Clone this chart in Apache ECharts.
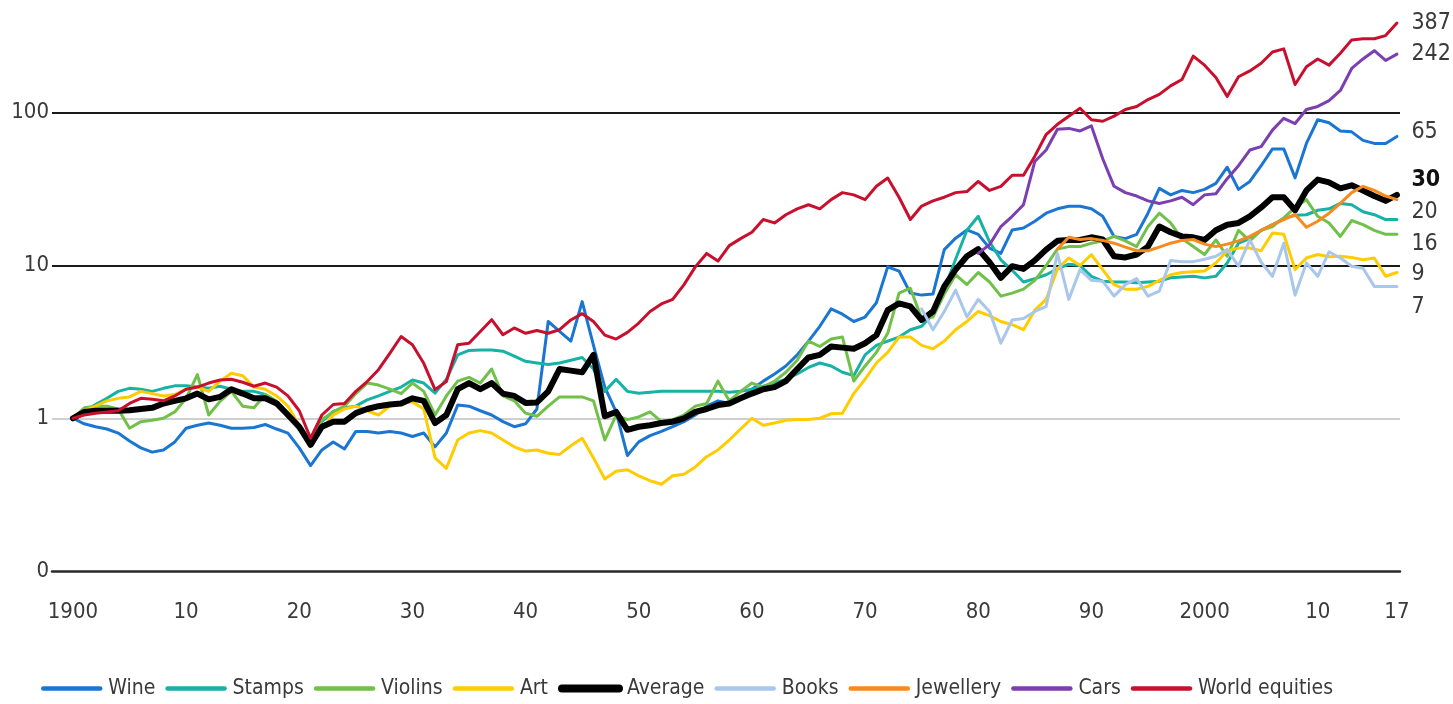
<!DOCTYPE html>
<html>
<head>
<meta charset="utf-8">
<script src="https://cdn.jsdelivr.net/npm/echarts@6/dist/echarts.min.js"></script>
<style>
html, body { margin: 0; padding: 0; background: #fff; }
#chart { width: 1453px; height: 704px; }
</style>
</head>
<body>
<div id="chart"></div>
<script>
// index, 1900 = 1, one value per year
const firstYear = 1900;
const wine = [
  1.0, 0.92, 0.88, 0.85, 0.8, 0.71, 0.64, 0.6, 0.62, 0.7,
  0.86, 0.9, 0.93, 0.9, 0.86, 0.86, 0.87, 0.91, 0.85, 0.8,
  0.64, 0.49, 0.62, 0.7, 0.63, 0.82, 0.82, 0.8, 0.82, 0.8,
  0.76, 0.8, 0.65, 0.8, 1.22, 1.2, 1.12, 1.05, 0.95, 0.88,
  0.92, 1.15, 4.3, 3.7, 3.2, 5.8, 3.0, 1.6, 1.1, 0.57,
  0.7, 0.77, 0.82, 0.88, 0.95, 1.05, 1.2, 1.3, 1.25, 1.35,
  1.55, 1.75, 1.95, 2.2, 2.6, 3.2, 4.0, 5.2, 4.8, 4.3,
  4.6, 5.7, 9.8, 9.2, 6.6, 6.4, 6.5, 12.7, 15.1, 17.1,
  16, 13, 12, 17.1, 17.6, 19.5, 22, 23.5, 24.4, 24.4,
  23.5, 21, 15.5, 15, 16, 22, 32, 29, 31, 30,
  31.5, 34.5, 44, 31.5, 35.5, 45, 58, 58, 37.5, 63,
  90, 86, 76, 75, 66, 63, 63, 70
];
const stamps = [
  1.0, 1.11, 1.23, 1.35, 1.5, 1.57, 1.55, 1.5, 1.57, 1.63,
  1.63, 1.6, 1.57, 1.62, 1.55, 1.5, 1.5, 1.43, 1.29, 1.08,
  0.84, 0.7, 0.95, 1.11, 1.17, 1.2, 1.32, 1.4, 1.5, 1.6,
  1.78, 1.7, 1.46, 1.8, 2.6, 2.78, 2.8, 2.8, 2.75, 2.55,
  2.36, 2.3, 2.25, 2.3, 2.4, 2.5, 2.1, 1.5, 1.8, 1.5,
  1.46, 1.48, 1.5, 1.5, 1.5, 1.5, 1.5, 1.5, 1.48, 1.5,
  1.55, 1.62, 1.7, 1.8, 1.95, 2.15, 2.3, 2.2, 2.0, 1.9,
  2.6, 3.0, 3.2, 3.4, 3.8, 4.0, 4.8, 7.0, 11, 17,
  21, 14.3, 10.9, 9.3, 7.8, 8.2, 8.7, 9.5, 10.2, 10,
  8.5, 7.9, 7.8, 7.8, 7.7, 7.8, 7.9, 8.3, 8.4, 8.5,
  8.3, 8.5, 10.4, 14, 15, 17, 18.5, 20.3, 21.3, 21.5,
  23, 23.5, 25.5, 25, 22.5, 21.5, 20, 20
];
const violins = [
  1.0, 1.17, 1.2, 1.2, 1.15, 0.86, 0.95, 0.97, 1.0, 1.1,
  1.35, 1.93, 1.05, 1.29, 1.5, 1.2, 1.17, 1.43, 1.29, 1.02,
  0.84, 0.7, 0.98, 1.1, 1.2, 1.45, 1.7, 1.65, 1.55, 1.45,
  1.7, 1.5, 1.05, 1.4, 1.75, 1.85, 1.7, 2.1, 1.4, 1.3,
  1.08, 1.03, 1.2, 1.38, 1.38, 1.38, 1.3, 0.72, 1.05, 0.98,
  1.02, 1.1, 0.95, 0.98, 1.05, 1.2, 1.25, 1.75, 1.3, 1.5,
  1.7, 1.6, 1.75, 2.0, 2.4, 3.2, 2.95, 3.3, 3.4, 1.75,
  2.2, 2.7, 3.6, 6.6, 7.1, 4.5, 4.6, 6.5, 8.7, 7.5,
  9.0, 7.8, 6.3, 6.6, 7.0, 8.0, 10, 12.8, 13.3, 13.3,
  14, 14.5, 15.5, 14.5, 13.3, 18, 22, 19, 15, 13.3,
  11.8, 14.7, 11.5, 17, 14.5, 17, 18, 20.5, 24, 27,
  21, 19, 15.5, 19.7, 18.5, 17, 16, 16
];
const art = [
  1.0, 1.12, 1.2, 1.3, 1.35, 1.38, 1.5, 1.45, 1.4, 1.43,
  1.55, 1.6, 1.5, 1.75, 1.97, 1.9, 1.6, 1.55, 1.4, 1.2,
  0.9, 0.68, 0.85, 1.05, 1.15, 1.2, 1.12, 1.05, 1.2, 1.25,
  1.28, 1.15, 0.55, 0.47, 0.72, 0.8, 0.83, 0.8, 0.72, 0.65,
  0.61, 0.62, 0.59, 0.58, 0.66, 0.74, 0.55, 0.4, 0.45, 0.46,
  0.42, 0.39, 0.37, 0.42, 0.43, 0.48, 0.56, 0.62, 0.72, 0.85,
  1.0, 0.9, 0.93, 0.97, 0.98, 0.98, 1.0, 1.07, 1.08, 1.45,
  1.8, 2.3, 2.7, 3.4, 3.4, 3.0, 2.85, 3.2, 3.8, 4.3,
  5.0, 4.7, 4.3, 4.1, 3.8, 5.1, 6.0, 9.5, 11.2, 10,
  11.8, 9.4, 7.5, 7.0, 7.0, 7.3, 8.0, 8.7, 9.0, 9.1,
  9.2, 10.4, 12.5, 13, 13, 12.5, 16.3, 16, 9.4, 11.2,
  11.8, 11.4, 11.5, 11.3, 10.9, 11.2, 8.5, 9.0
];
const average = [
  1.0, 1.1, 1.12, 1.12, 1.12, 1.13, 1.15, 1.17, 1.25, 1.3,
  1.35, 1.45, 1.33, 1.38, 1.55, 1.45, 1.35, 1.35, 1.25, 1.05,
  0.88, 0.67, 0.88, 0.95, 0.95, 1.08, 1.15, 1.2, 1.23, 1.25,
  1.35, 1.3, 0.93, 1.05, 1.55, 1.7, 1.55, 1.7, 1.45, 1.4,
  1.26, 1.27, 1.5, 2.1, 2.05, 2.0, 2.6, 1.03, 1.1, 0.84,
  0.88, 0.9, 0.93, 0.95, 1.0, 1.1, 1.15, 1.22, 1.25, 1.35,
  1.45, 1.55, 1.6, 1.75, 2.1, 2.5, 2.6, 2.95, 2.9, 2.85,
  3.1, 3.5, 5.1, 5.65, 5.4, 4.4, 5.0, 7.3, 9.4, 11.5,
  12.8, 10.5, 8.3, 9.9, 9.5, 10.8, 12.7, 14.5, 14.7, 14.7,
  15.3, 14.8, 11.5, 11.3, 11.8, 13.3, 18, 16.5, 15.5, 15.3,
  14.7, 17, 18.5, 19, 21, 24, 28, 28, 23, 31,
  36.5, 35, 32, 33.5, 31, 28.5, 26.5, 29
];
const booksStart = 1975;
const books = [
  5.2, 3.8, 5.0, 6.9, 4.6,
  6.0, 5.0, 3.1, 4.4, 4.5, 5.0, 5.4, 12, 6.0, 9.4,
  8.0, 7.9, 6.3, 7.5, 8.2, 6.3, 6.8, 10.8, 10.6, 10.6,
  11.0, 11.5, 12.7, 9.9, 14.7, 10.5, 8.5, 14, 6.4, 10.4,
  8.5, 12.3, 11.2, 9.9, 9.6, 7.3, 7.3, 7.3
];
const jewelleryStart = 1987;
const jewellery = [
  12.8, 15.3, 14.8,
  15, 14.6, 14, 13.2, 12.5, 12.5, 13.2, 14, 14.6, 14.8,
  13.8, 13.3, 13.8, 14.5, 15.5, 17, 18.5, 20, 21.6, 17.8,
  19.5, 22, 25.5, 30, 33, 31, 28.5, 27
];
const carsStart = 1980;
const cars = [
  12, 13.7, 18, 21, 25, 48, 57, 78, 79, 76,
  82, 50, 33, 30, 28.5, 26.5, 25.5, 26.5, 28, 25,
  29, 29.5, 37, 45, 57, 60, 77, 92, 85, 105,
  110, 120, 140, 195, 225, 255, 220, 242
];
const equities = [
  1.0, 1.05, 1.08, 1.1, 1.12, 1.25, 1.35, 1.33, 1.3, 1.4,
  1.55, 1.6, 1.7, 1.78, 1.8, 1.72, 1.62, 1.7, 1.6, 1.4,
  1.12, 0.74, 1.05, 1.23, 1.25, 1.5, 1.74, 2.08, 2.66, 3.43,
  3.03, 2.29, 1.54, 1.74, 3.03, 3.1, 3.7, 4.42, 3.52, 3.9,
  3.6, 3.75, 3.6, 3.8, 4.4, 4.84, 4.3, 3.5, 3.3, 3.65,
  4.2, 5.0, 5.6, 6.0, 7.5, 9.8, 12, 10.7, 13.5, 15,
  16.5, 20, 19, 21.5, 23.5, 25, 23.5, 27, 30, 29,
  27, 33, 37.4, 28, 20, 24.5, 26.5, 28, 30, 30.5,
  35.5, 31, 33, 39, 39, 52, 72, 84, 95, 107,
  90, 88, 95, 105, 110, 122, 132, 150, 165, 235,
  205, 170, 128, 172, 188, 211, 250, 262, 153, 200,
  225, 205, 245, 300, 305, 305, 320, 387
];

const xTicks = [1900, 1910, 1920, 1930, 1940, 1950, 1960, 1970, 1980, 1990, 2000, 2010, 2017];
const yGrid = [1, 10, 100];
// figures printed at the right end of each line
const endTexts = { 'World equities': '387', 'Cars': '242', 'Wine': '65', 'Average': '30', 'Stamps': '20', 'Violins': '16', 'Art': '9', 'Books': '7' };

const FONT = "'Liberation Sans Narrow', 'Arial Narrow', 'DejaVu Sans Condensed', sans-serif";
const TEXT = '#3a3a3a';

function pairs(vals, start) {
  return vals.map((v, i) => [start + i, v]);
}

let defs = [
  { name: 'Wine', color: '#1b76d3', width: 3, data: pairs(wine, firstYear), dy: -4 },
  { name: 'Stamps', color: '#16b2a5', width: 3, data: pairs(stamps, firstYear), dy: -7 },
  { name: 'Violins', color: '#71c04a', width: 3, data: pairs(violins, firstYear), dy: 10 },
  { name: 'Art', color: '#ffcc00', width: 3, data: pairs(art, firstYear), dy: 2 },
  { name: 'Average', color: '#000000', width: 6, data: pairs(average, firstYear), dy: -15, bold: true },
  { name: 'Books', color: '#a9c7ea', width: 3, data: pairs(books, booksStart), dy: 21 },
  { name: 'Jewellery', color: '#f78a1e', width: 3, data: pairs(jewellery, jewelleryStart) },
  { name: 'Cars', color: '#7b3fb1', width: 3, data: pairs(cars, carsStart), dy: 0 },
  { name: 'World equities', color: '#c8102e', width: 3, data: pairs(equities, firstYear), dy: 0 }
];

let series = defs.map((d, k) => {
  let s = {
    name: d.name,
    type: 'line',
    data: d.data,
    showSymbol: false,
    symbol: 'none',
    color: d.color,
    lineStyle: { color: d.color, width: d.width, join: 'round', cap: 'round' },
    emphasis: { disabled: true }
  };
  let txt = endTexts[d.name];
  if (txt) {
    let last = d.data[d.data.length - 1];
    s.markPoint = {
      symbol: 'circle',
      symbolSize: 1,
      itemStyle: { color: 'rgba(0,0,0,0)' },
      silent: true,
      data: [{ coord: last }],
      label: {
        show: true,
        position: 'right',
        distance: 14,
        offset: [0, d.dy || 0],
        formatter: txt,
        color: d.bold ? '#111' : TEXT,
        fontWeight: d.bold ? 'bold' : 'normal',
        fontSize: 23,
        fontFamily: FONT
      }
    };
  }
  if (k === 0) {
    // horizontal rules at 1, 10 and 100
    s.markLine = {
      silent: true,
      z: 1,
      symbol: 'none',
      label: { show: false },
      data: yGrid.map(v => ({
        yAxis: v,
        lineStyle: { color: v === 1 ? '#cfcfcf' : '#1a1a1a', width: 2, type: 'solid' }
      }))
    };
  }
  return s;
});

let chart = echarts.init(document.getElementById('chart'));
chart.setOption({
  animation: false,
  backgroundColor: '#fff',
  grid: { left: 52, right: 53, top: 6, bottom: 133 },
  xAxis: {
    type: 'value',
    min: 1898.15,
    max: 2017.27,
    splitLine: { show: false },
    axisTick: { show: false },
    axisLine: { show: true, lineStyle: { color: '#2a2a2a', width: 2.5 } },
    axisLabel: {
      customValues: xTicks,
      margin: 30,
      fontSize: 22,
      color: TEXT,
      fontFamily: FONT,
      formatter: v => (v === 1900 || v === 2000) ? String(v) : String(v % 100).padStart(2, '0')
    }
  },
  yAxis: {
    type: 'log',
    logBase: 10,
    min: 0.1,
    max: 500,
    splitLine: { show: false },
    axisLine: { show: false },
    axisTick: { show: false },
    axisLabel: {
      margin: 3,
      fontSize: 22,
      color: TEXT,
      fontFamily: FONT,
      formatter: v => {
        if (Math.abs(v - 0.1) < 1e-6) return '0';
        for (let g of yGrid) if (Math.abs(v - g) < 1e-6 * g) return String(g);
        return '';
      }
    }
  },
  legend: {
    left: 36,
    bottom: 0,
    itemWidth: 57,
    itemHeight: 12,
    itemGap: 10,
    selectedMode: false,
    itemStyle: { opacity: 0 },
    textStyle: { fontSize: 21, color: TEXT, fontFamily: FONT, padding: [0, 0, 0, 3] },
    lineStyle: { width: 4.5, cap: 'round' },
    data: defs.map(d => d.name === 'Average' ? { name: d.name, lineStyle: { width: 8, cap: 'round' } } : d.name)
  },
  series: series
});
</script>
</body>
</html>
